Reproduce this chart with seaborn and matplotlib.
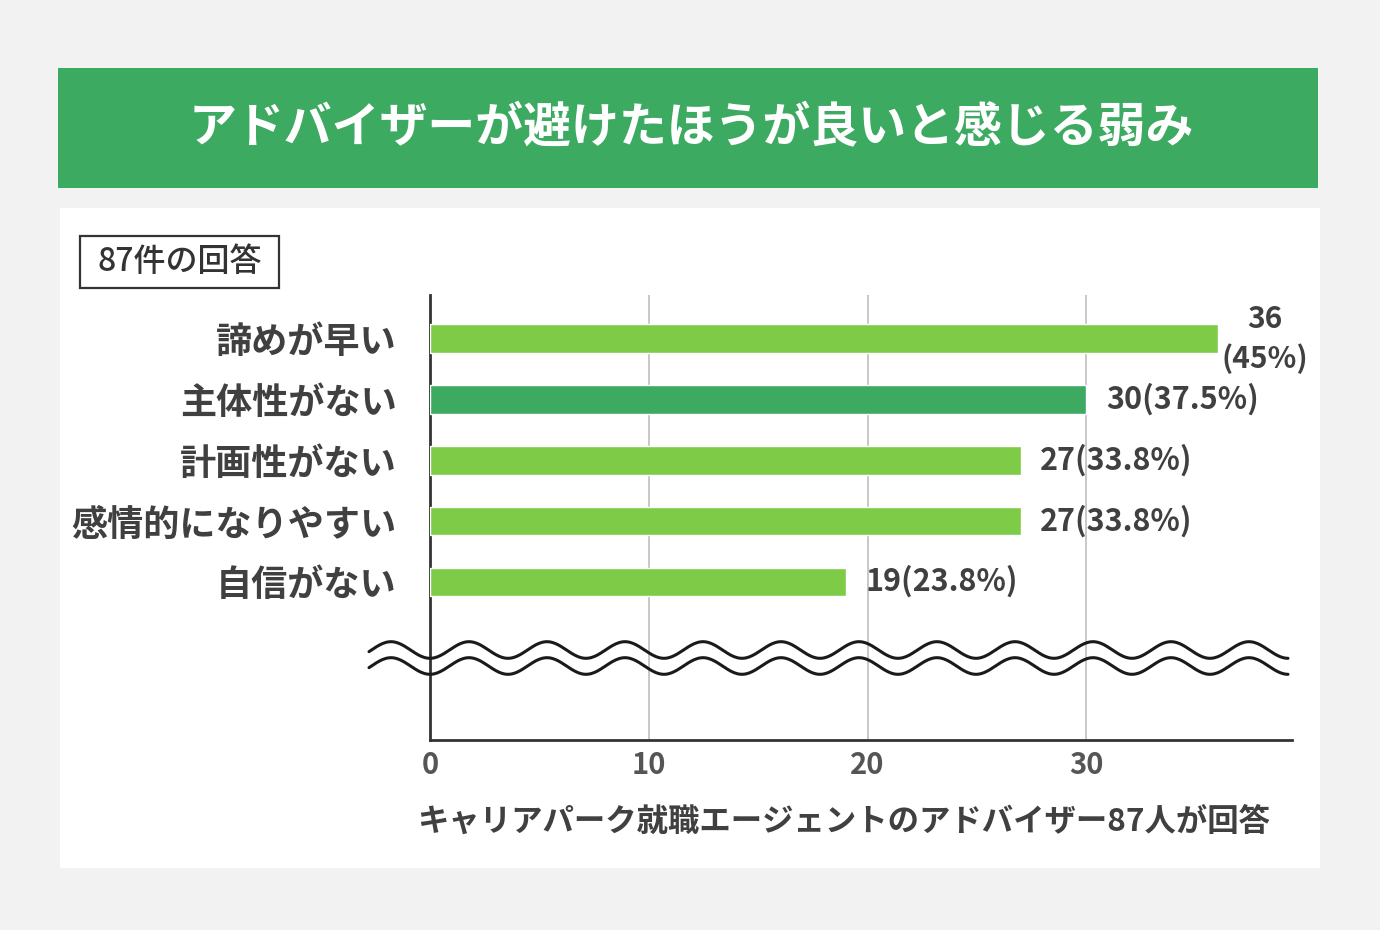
import numpy as np
import pandas as pd
import matplotlib.pyplot as plt
import seaborn as sns
from matplotlib.patches import Rectangle
from matplotlib.lines import Line2D

# データ
categories = ["諦めが早い", "主体性がない", "計画性がない", "感情的になりやすい", "自信がない"]
counts = [36, 30, 27, 27, 19]
percents = ["45%", "37.5%", "33.8%", "33.8%", "23.8%"]
bar_colors = ["#7ecb47", "#3daa62", "#7ecb47", "#7ecb47", "#7ecb47"]

title = "アドバイザーが避けたほうが良いと感じる弱み"
note = "87件の回答"
xlabel = "キャリアパーク就職エージェントのアドバイザー87人が回答"

df = pd.DataFrame({"item": categories, "count": counts})

sns.set_theme(style="white")
plt.rcParams["font.family"] = ["Noto Sans CJK JP", "DejaVu Sans"]

W, H = 1380, 930
fig = plt.figure(figsize=(W / 100, H / 100), dpi=100)
fig.patch.set_facecolor("#f2f2f2")

def fx(px):
    return px / W

def fy(py):
    return 1 - py / H

# タイトル帯と白パネル
fig.add_artist(Rectangle((fx(58), fy(188)), fx(1260), 120 / H, transform=fig.transFigure,
                         facecolor="#3daa62", edgecolor="none", zorder=0))
fig.add_artist(Rectangle((fx(60), fy(868)), fx(1260), 660 / H, transform=fig.transFigure,
                         facecolor="white", edgecolor="none", zorder=0))
fig.text(fx(691), fy(128), title, color="white", fontsize=34.5, fontweight="bold",
         ha="center", va="center")

# 回答数の枠
fig.add_artist(Rectangle((fx(80), fy(288)), fx(199), 52 / H, transform=fig.transFigure,
                         facecolor="white", edgecolor="#333333", linewidth=1.6, zorder=1))
fig.text(fx(180), fy(262), note, color="#333333", fontsize=23, fontweight="medium",
         ha="center", va="center", zorder=2)

ax = fig.add_axes([fx(430), fy(740), fx(1292) - fx(430), (740 - 295) / H])
ax.set_facecolor("none")

sns.barplot(data=df, x="count", y="item", hue="item", palette=bar_colors, legend=False,
            orient="h", width=0.47, saturation=1, ax=ax, zorder=3)

ax.set_xlim(0, 39.4)
ax.set_ylim(6.6, -0.72)
ax.set_xticks([0, 10, 20, 30])
ax.xaxis.grid(True, color="#c8c8c8", linewidth=1.4)
ax.set_axisbelow(True)
for side in ["top", "right"]:
    ax.spines[side].set_visible(False)
for side in ["left", "bottom"]:
    ax.spines[side].set_color("#333333")
    ax.spines[side].set_linewidth(2)

ax.tick_params(axis="y", length=0, pad=24)
ax.tick_params(axis="x", length=0, pad=7)
for lbl in ax.get_yticklabels():
    lbl.set_fontsize(26)
    lbl.set_fontweight("bold")
    lbl.set_color("#404040")
for lbl in ax.get_xticklabels():
    lbl.set_fontsize(21)
    lbl.set_fontweight("bold")
    lbl.set_color("#555555")
ax.set_ylabel("")
ax.set_xlabel("")
fig.text(fx(844), fy(822), xlabel, fontsize=22.6, fontweight="bold", color="#404040",
         ha="center", va="center")

# 値ラベル
for i, (c, p) in enumerate(zip(counts, percents)):
    if i == 0:
        ax.annotate(f"{c}\n({p})", xy=(c, i), xytext=(3, 0), textcoords="offset points",
                    ha="left", va="center", multialignment="center", fontsize=21.5,
                    color="#404040", fontweight="bold", linespacing=1.4)
    else:
        ax.annotate(f"{c}({p})", xy=(c, i), xytext=(14, 0), textcoords="offset points",
                    ha="left", va="center", fontsize=22, color="#404040", fontweight="bold")

# 省略記号の波線
xs = np.linspace(369, 1288, 600)
for off in (0, 16):
    ys = 650 + off + 8.3 * np.cos(2 * np.pi * (xs - 430) / 78)
    fig.add_artist(Line2D(fx(xs), fy(ys), transform=fig.transFigure, color="#1a1a1a",
                          linewidth=2.2, zorder=5))

fig.savefig("out.png", dpi=100, facecolor=fig.get_facecolor())
